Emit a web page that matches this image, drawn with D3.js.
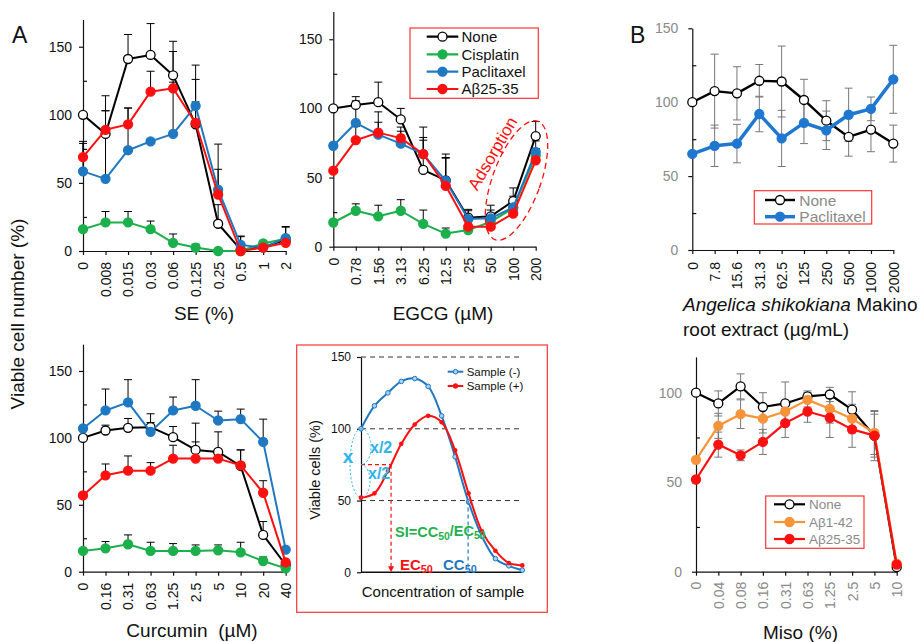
<!DOCTYPE html>
<html><head><meta charset="utf-8">
<script src="https://cdn.jsdelivr.net/npm/d3@7"></script>
<style>
body{margin:0;background:#fff}
svg{display:block;font-family:"Liberation Sans",Arial,Helvetica,sans-serif}
</style></head><body>
<svg id="fig" width="921" height="642"></svg>
<script>
// ---- Panel A: SE ----
const seCats = ["0","0.008","0.015","0.03","0.06","0.125","0.25","0.5","1","2"];
const seNone = [100, 86, 141, 144, 129, 93, 20, 1, 3, 8];
const seNoneErr = [0, 28, 18, 23, 25, 33, 14, 10, 2, 10];
const seCis = [16, 21, 21, 16, 6, 2.5, 0, 0, 5.5, 9];
const seCisErr = [0, 8, 8, 6, 6.5, 2.5, 0, 0, 0, 0];
const sePac = [58.5, 53, 74, 80.5, 86, 106.5, 45, 4.5, 2.5, 9.5];
const sePacErr = [22, 50, 31, 0, 38, 30, 15, 6, 3, 8];
const seAb = [69, 89, 93, 117, 119.5, 94, 41.5, 0, 2.5, 6];
const seAbErr = [10, 14, 12, 15, 27, 15.5, 37, 0, 2, 3];

// ---- Panel A: EGCG ----
const egCats = ["0","0.78","1.56","3.13","6.25","12.5","25","50","100","200"];
const egNone = [100, 102.5, 104.5, 92, 55.5, 48, 21, 22, 33, 80];
const egNoneErr = [0, 6, 14.5, 8, 31, 19, 6, 8, 9.5, 10.5];
const egCis = [17.5, 26, 22, 26, 16.5, 9.5, 12, 18, 28, 66];
const egCisErr = [0, 5, 8, 8, 10, 4, 3, 3, 4, 5];
const egPac = [73, 89.5, 81, 74.5, 67, 47.5, 20, 20.5, 28.5, 68.5];
const egPacErr = [0, 16, 9, 9, 12, 17, 6, 6, 8, 8];
const egAb = [55, 77, 82.5, 78.5, 67, 44, 14.5, 14.5, 24, 62.5];
const egAbErr = [0, 10, 15, 8, 10, 20, 6, 6, 8, 8];

// ---- Panel A: Curcumin ----
const cuCats = ["0","0.16","0.31","0.63","1.25","2.5","5","10","20","40"];
const cuNone = [100, 105.5, 107.5, 108, 100.5, 91, 89.5, 79, 27.5, 5];
const cuNoneErr = [0, 4, 7, 10, 8, 20, 15, 12, 10, 2];
const cuCis = [15.5, 17.5, 20.5, 15.5, 15.5, 15.5, 16, 14.5, 8, 2.5];
const cuCisErr = [0, 5, 7, 6.5, 5.5, 4.5, 4, 7.5, 3, 0];
const cuPac = [107, 120.5, 126.5, 104.5, 120.5, 124, 113, 114, 97, 16.5];
const cuPacErr = [0, 16, 17, 7, 10, 19.5, 7, 7.5, 17, 0];
const cuAb = [57, 72, 75.5, 75.5, 84.5, 84.5, 84.5, 79.5, 59, 7];
const cuAbErr = [0, 8.5, 11, 6, 10, 12.5, 5, 11.5, 9, 0];

// ---- Schematic: selectivity index ----
const schConc = [0, 1, 2, 3, 4, 5, 6, 7, 8, 9, 10, 11, 12];
const schNeg = [100, 116, 125, 133, 135, 129.5, 109, 80.5, 49, 25, 9.5, 4.5, 1.5];
const schPos = [52, 55, 70.5, 89.5, 103, 109, 104.5, 85, 55, 28.5, 15, 6.5, 4.8];
const schTicks = [0, 50, 100, 150];

// ---- Panel B: Angelica shikokiana ----
const asCats = ["0","7.8","15.6","31.3","62.5","125","250","500","1000","2000"];
const asNone = [100, 107.5, 106, 114.5, 114, 101.5, 87.5, 76.5, 81.5, 72];
const asNoneSd = [0, 25, 18, 11, 24, 14, 13.5, 13, 15, 12.5];
const asPac = [65, 70.5, 72, 92, 75.5, 86, 81, 91.5, 95.5, 115.5];
const asPacSd = [0, 14, 13, 12, 19, 14, 13, 18, 8, 23];

// ---- Panel B: Miso ----
const miCats = ["0","0.04","0.08","0.16","0.31","0.63","1.25","2.5","5","10"];
const miNone = [100, 94, 103.5, 92, 94, 98, 99, 90.5, 76, 2.5];
const miNoneSd = [0, 7, 7, 8, 12, 3, 4, 10, 12, 0];
const miAb42 = [62.5, 81.5, 88, 85.5, 89.5, 96, 91, 85.5, 77.5, 4.5];
const miAb42Sd = [0, 7, 8, 8, 6, 4, 8, 8, 12, 0];
const miAb25 = [51.5, 71, 65, 72.5, 83, 89.5, 86, 79.5, 76, 4];
const miAb25Sd = [0, 7, 3, 7, 8, 6, 11, 10, 14, 0];

const C = {
  black: "#000000", green: "#1bb04b", blue: "#1f78c2", red: "#ff1010",
  blueB: "#1f77d0", orange: "#f7943a", cyan: "#2eb4ea", box: "#ff3333", grayTxt: "#8a8a8a"
};

const svg = d3.select("#fig");
const FONT_T = 19;

function drawPanel(p) {
  const x = d3.scalePoint().domain(p.cats).range(p.xr);
  const y = d3.scaleLinear().domain(p.yd).range(p.yr);
  const g = svg.append("g");

  // y axis (major ticks outside, minor inside)
  const ya = g.append("g").attr("transform", `translate(${p.xr[0]},0)`)
    .call(d3.axisLeft(y).tickValues(p.yticks).tickSize(4).tickPadding(p.ypad).tickSizeOuter(0));
  const ym = g.append("g").attr("transform", `translate(${p.xr[0]},0)`)
    .call(d3.axisRight(y).tickValues(p.minor).tickSize(4).tickFormat(() => ""));
  ym.select(".domain").remove();

  // x axis with vertical labels
  const xa = g.append("g").attr("transform", `translate(0,${p.yr[0]})`)
    .call(d3.axisBottom(x).tickSize(4).tickSizeOuter(0));
  xa.selectAll("text")
    .attr("y", 0).attr("x", -p.xpad).attr("dy", "0.35em")
    .attr("transform", "rotate(-90)").style("text-anchor", "end");

  [ya, ym, xa].forEach(a => {
    a.selectAll(".domain, line").attr("stroke", "#111").attr("stroke-width", 1.2);
    a.selectAll("text").style("font-size", "14px")
      .style("font-family", "Liberation Sans, Arial, sans-serif");
  });
  ya.selectAll("text").attr("fill", p.yTickColor);
  xa.selectAll("text").attr("fill", p.xTickColor);

  // error bars
  p.series.forEach(s => {
    const eg = g.append("g").attr("stroke", p.errColor).attr("stroke-width", 1).attr("fill", "none");
    s.v.forEach((v, i) => {
      const e = s.e[i];
      if (!e) return;
      const cx = x(p.cats[i]);
      const lo = p.twoSided ? v - e : v;
      eg.append("line").attr("x1", cx).attr("x2", cx).attr("y1", y(lo)).attr("y2", y(v + e));
      eg.append("line").attr("x1", cx - 4).attr("x2", cx + 4).attr("y1", y(v + e)).attr("y2", y(v + e));
      if (p.twoSided)
        eg.append("line").attr("x1", cx - 4).attr("x2", cx + 4).attr("y1", y(lo)).attr("y2", y(lo));
    });
  });

  // lines and markers
  p.series.forEach(s => {
    const line = d3.line().x((d, i) => x(p.cats[i])).y(d => y(d));
    g.append("path").datum(s.v).attr("d", line).attr("fill", "none")
      .attr("stroke", s.color).attr("stroke-width", s.lw || 2).attr("stroke-linejoin", "round");
    g.append("g").selectAll("circle").data(s.v).join("circle")
      .attr("cx", (d, i) => x(p.cats[i])).attr("cy", d => y(d)).attr("r", s.r || 4.5)
      .attr("fill", s.open ? "#fff" : s.color).attr("stroke", s.color).attr("stroke-width", 1.3);
  });
  return { x, y, g };
}

function drawLegend(L) {
  const g = svg.append("g");
  g.append("rect").attr("x", L.x).attr("y", L.y).attr("width", L.w).attr("height", L.h)
    .attr("fill", "#fff").attr("stroke", C.box).attr("stroke-width", 1.2);
  L.items.forEach((it, i) => {
    const yy = L.rows[i];
    g.append("line").attr("x1", L.lx[0]).attr("x2", L.lx[1]).attr("y1", yy).attr("y2", yy)
      .attr("stroke", it.color).attr("stroke-width", it.lw || 2.2);
    g.append("circle").attr("cx", (L.lx[0] + L.lx[1]) / 2).attr("cy", yy).attr("r", 4.5)
      .attr("fill", it.open ? "#fff" : it.color).attr("stroke", it.color).attr("stroke-width", 1.3);
    g.append("text").attr("x", L.tx).attr("y", yy).attr("dy", "0.36em")
      .style("font-size", L.fs + "px").attr("fill", L.tc).text(it.label);
  });
}

const A_TICK = "#111";

// SE
drawPanel({
  cats: seCats, xr: [83, 285.7], yd: [0, 170], yr: [251, 19.5],
  yticks: [0, 50, 100, 150], minor: [25, 75, 125], ypad: 7, xpad: 11,
  yTickColor: A_TICK, xTickColor: A_TICK, errColor: "#000", twoSided: false,
  series: [
    { v: seNone, e: seNoneErr, color: C.black, open: true },
    { v: seCis, e: seCisErr, color: C.green },
    { v: sePac, e: sePacErr, color: C.blue },
    { v: seAb, e: seAbErr, color: C.red }
  ]
});

// EGCG
drawPanel({
  cats: egCats, xr: [333.3, 535.7], yd: [0, 170], yr: [246.7, 11.6],
  yticks: [0, 50, 100, 150], minor: [25, 75, 125], ypad: 7, xpad: 11,
  yTickColor: A_TICK, xTickColor: A_TICK, errColor: "#000", twoSided: false,
  series: [
    { v: egNone, e: egNoneErr, color: C.black, open: true },
    { v: egCis, e: egCisErr, color: C.green },
    { v: egPac, e: egPacErr, color: C.blue },
    { v: egAb, e: egAbErr, color: C.red }
  ]
});

// Curcumin
drawPanel({
  cats: cuCats, xr: [83, 285.7], yd: [0, 170], yr: [571.7, 344.2],
  yticks: [0, 50, 100, 150], minor: [25, 75, 125], ypad: 7, xpad: 11,
  yTickColor: A_TICK, xTickColor: A_TICK, errColor: "#000", twoSided: false,
  series: [
    { v: cuNone, e: cuNoneErr, color: C.black, open: true },
    { v: cuCis, e: cuCisErr, color: C.green },
    { v: cuPac, e: cuPacErr, color: C.blue },
    { v: cuAb, e: cuAbErr, color: C.red }
  ]
});

// Angelica shikokiana
drawPanel({
  cats: asCats, xr: [692.3, 893.3], yd: [0, 150], yr: [250, 28.3],
  yticks: [0, 50, 100, 150], minor: [25, 75, 125], ypad: 10, xpad: 12,
  yTickColor: C.grayTxt, xTickColor: "#111", errColor: "#777", twoSided: true,
  series: [
    { v: asNone, e: asNoneSd, color: C.black, open: true, lw: 2.4 },
    { v: asPac, e: asPacSd, color: C.blueB, lw: 3.5 }
  ]
});

// Miso
drawPanel({
  cats: miCats, xr: [696, 896.7], yd: [0, 120], yr: [571.7, 356.9],
  yticks: [0, 50, 100], minor: [25, 75], ypad: 10, xpad: 10,
  yTickColor: C.grayTxt, xTickColor: C.grayTxt, errColor: "#777", twoSided: true,
  series: [
    { v: miNone, e: miNoneSd, color: C.black, open: true, lw: 2.2 },
    { v: miAb42, e: miAb42Sd, color: C.orange, lw: 2.2 },
    { v: miAb25, e: miAb25Sd, color: C.red, lw: 2.2 }
  ]
});

// Adsorption annotation on the EGCG panel
svg.append("ellipse").attr("cx", 0).attr("cy", 0).attr("rx", 24).attr("ry", 63)
  .attr("transform", "translate(516.5,180.5) rotate(20)")
  .attr("fill", "none").attr("stroke", C.red).attr("stroke-width", 1.3).attr("stroke-dasharray", "6,4");
svg.append("text").attr("transform", "translate(492.5,153.4) rotate(-60)")
  .attr("text-anchor", "middle").attr("dy", "0.35em").style("font-size", "17px")
  .attr("fill", C.red).text("Adsorption");

// Legends
drawLegend({
  x: 410, y: 28, w: 128.3, h: 70.3, rows: [36.7, 54.3, 71.7, 89], lx: [426.7, 458.3], tx: 461.5,
  fs: 15, tc: "#111",
  items: [
    { label: "None", color: C.black, open: true },
    { label: "Cisplatin", color: C.green },
    { label: "Paclitaxel", color: C.blue },
    { label: "Aβ25-35", color: C.red }
  ]
});
drawLegend({
  x: 754.3, y: 190.7, w: 117.4, h: 33.3, rows: [200, 216.7], lx: [765, 795], tx: 799.3,
  fs: 15.5, tc: C.grayTxt,
  items: [
    { label: "None", color: C.black, open: true, lw: 2.4 },
    { label: "Paclitaxel", color: C.blueB, lw: 3.5 }
  ]
});
drawLegend({
  x: 765.7, y: 496, w: 98.3, h: 52.3, rows: [504.3, 522, 539], lx: [774, 805], tx: 809,
  fs: 13.5, tc: C.grayTxt,
  items: [
    { label: "None", color: C.black, open: true },
    { label: "Aβ1-42", color: C.orange },
    { label: "Aβ25-35", color: C.red }
  ]
});

// ---- Schematic panel ----
(function () {
  const g = svg.append("g");
  g.append("rect").attr("x", 296.7).attr("y", 345).attr("width", 250.6).attr("height", 267.3)
    .attr("fill", "#fff").attr("stroke", C.box).attr("stroke-width", 1.2);
  const x = d3.scaleLinear().domain([0, 12]).range([361, 522.3]);
  const y = d3.scaleLinear().domain([0, 150]).range([572.3, 357]);

  // dashed reference lines
  g.append("g").selectAll("line").data(schTicks.filter(t => t > 0)).join("line")
    .attr("x1", x(0)).attr("x2", x(12)).attr("y1", d => y(d)).attr("y2", d => y(d))
    .attr("stroke", "#333").attr("stroke-width", 1).attr("stroke-dasharray", "5,4");

  const ya = g.append("g").attr("transform", `translate(${x(0)},0)`)
    .call(d3.axisLeft(y).tickValues(schTicks).tickSize(4).tickPadding(6).tickSizeOuter(0));
  ya.selectAll(".domain, line").attr("stroke", "#111").attr("stroke-width", 1.2);
  ya.selectAll("text").style("font-size", "12px").attr("fill", "#111")
    .style("font-family", "Liberation Sans, Arial, sans-serif");
  g.append("line").attr("x1", x(0)).attr("x2", x(12)).attr("y1", y(0)).attr("y2", y(0))
    .attr("stroke", "#111").attr("stroke-width", 1.4);

  const curve = d3.line().x((d, i) => x(schConc[i])).y(d => y(d)).curve(d3.curveCatmullRom.alpha(0.5));
  g.append("path").datum(schNeg).attr("d", curve).attr("fill", "none").attr("stroke", C.blue).attr("stroke-width", 2);
  g.append("g").selectAll("circle").data(schNeg).join("circle")
    .attr("cx", (d, i) => x(schConc[i])).attr("cy", d => y(d)).attr("r", 2.3)
    .attr("fill", "#a9d0f0").attr("stroke", C.blue).attr("stroke-width", 1);
  g.append("path").datum(schPos).attr("d", curve).attr("fill", "none").attr("stroke", C.red).attr("stroke-width", 2);
  g.append("g").selectAll("circle").data(schPos).join("circle")
    .attr("cx", (d, i) => x(schConc[i])).attr("cy", d => y(d)).attr("r", 2.3).attr("fill", C.red);

  // concentration where a series crosses a level (searching from a start index)
  function crossing(vals, level, from) {
    for (let i = from; i < vals.length - 1; i++) {
      const a = vals[i], b = vals[i + 1];
      if ((a - level) * (b - level) <= 0 && a !== b) return schConc[i] + (level - a) / (b - a);
    }
    return 0;
  }
  const ec = crossing(schPos, 75, 0);
  const cc = crossing(schNeg, 50, 4);

  // EC50 guide
  g.append("line").attr("x1", x(0)).attr("x2", x(ec)).attr("y1", y(75)).attr("y2", y(75))
    .attr("stroke", C.red).attr("stroke-width", 1.2).attr("stroke-dasharray", "4,3");
  g.append("line").attr("x1", x(ec)).attr("x2", x(ec)).attr("y1", y(75)).attr("y2", y(0) - 5)
    .attr("stroke", C.red).attr("stroke-width", 1.2).attr("stroke-dasharray", "4,3");
  g.append("path").attr("d", `M${x(ec) - 3},${y(0) - 6} L${x(ec) + 3},${y(0) - 6} L${x(ec)},${y(0)} Z`).attr("fill", C.red);
  // CC50 guide
  g.append("line").attr("x1", x(cc)).attr("x2", x(cc)).attr("y1", y(50)).attr("y2", y(0))
    .attr("stroke", C.blue).attr("stroke-width", 1.2).attr("stroke-dasharray", "4,3");

  // x and x/2 brackets
  const x0 = x(0);
  const yT = y(schNeg[0]), yM = y(75), yB = y(schPos[0]);
  const arcs = g.append("g").attr("fill", "none").attr("stroke", C.cyan).attr("stroke-width", 1).attr("stroke-dasharray", "2,2");
  arcs.append("path").attr("d", `M${x0},${yT} A11,${(yB - yT) / 2} 0 0 0 ${x0},${yB}`);
  arcs.append("path").attr("d", `M${x0},${yT} A10,${(yM - yT) / 2} 0 0 1 ${x0},${yM}`);
  arcs.append("path").attr("d", `M${x0},${yM} A9,${(yB - yM) / 2} 0 0 1 ${x0},${yB}`);
  g.append("text").attr("x", 348).attr("y", 463).attr("text-anchor", "middle")
    .style("font-size", "19px").style("font-weight", "bold").attr("fill", C.cyan).text("x");
  g.append("text").attr("x", 370).attr("y", 453)
    .style("font-size", "16px").style("font-weight", "bold").attr("fill", C.cyan).text("x/2");
  g.append("text").attr("x", 368).attr("y", 479)
    .style("font-size", "16px").style("font-weight", "bold").attr("fill", C.cyan).text("x/2");

  // labels with subscripts
  function sub(xx, yy, parts, color, fs) {
    const tx = g.append("text").attr("x", xx).attr("y", yy).style("font-size", fs + "px")
      .style("font-weight", "bold").attr("fill", color);
    parts.forEach(pt => {
      const s = tx.append("tspan").text(pt[0]);
      if (pt[1]) s.style("font-size", (fs * 0.72) + "px").attr("dy", "0.25em");
      else if (pt[2]) s.attr("dy", "-0.25em");
    });
  }
  sub(395, 537, [["SI=CC"], ["50", true], ["/EC", false, true], ["50", true]], "#22b14c", 14.5);
  sub(400, 570, [["EC"], ["50", true]], C.red, 15);
  sub(443, 570, [["CC"], ["50", true]], C.blue, 15);

  // legend
  [["Sample (-)", C.blue, 371.7, true], ["Sample (+)", C.red, 386, false]].forEach(([lab, col, yy, open]) => {
    g.append("line").attr("x1", 447.7).attr("x2", 463.3).attr("y1", yy).attr("y2", yy).attr("stroke", col).attr("stroke-width", 2);
    g.append("circle").attr("cx", 455.5).attr("cy", yy).attr("r", 2.3)
      .attr("fill", open ? "#a9d0f0" : col).attr("stroke", col).attr("stroke-width", 1);
    g.append("text").attr("x", 466.7).attr("y", yy).attr("dy", "0.36em").style("font-size", "11.5px").attr("fill", "#111").text(lab);
  });

  g.append("text").attr("transform", "translate(320,470) rotate(-90)").attr("text-anchor", "middle")
    .style("font-size", "14.5px").attr("fill", "#111").text("Viable cells (%)");
  g.append("text").attr("x", 443).attr("y", 597).attr("text-anchor", "middle")
    .style("font-size", "15px").attr("fill", "#111").text("Concentration of sample");
})();

// ---- Titles ----
function title(txt, xx, yy, anchor) {
  return svg.append("text").attr("x", xx).attr("y", yy).attr("text-anchor", anchor || "middle")
    .style("font-size", FONT_T + "px").style("white-space", "pre").attr("fill", "#111").text(txt);
}
title("SE (%)", 204, 320);
title("EGCG (µM)", 443, 320);
title("Curcumin  (µM)", 192, 637);
title("Miso (%)", 800.5, 639);
const ang = svg.append("text").attr("x", 683).attr("y", 311).style("font-size", FONT_T + "px").attr("fill", "#111");
ang.append("tspan").style("font-style", "italic").text("Angelica shikokiana");
ang.append("tspan").text(" Makino");
title("root extract (µg/mL)", 683, 336, "start");
svg.append("text").attr("transform", "translate(24,314) rotate(-90)").attr("text-anchor", "middle")
  .style("font-size", FONT_T + "px").attr("fill", "#111").text("Viable cell number (%)");
svg.append("text").attr("x", 12).attr("y", 43).style("font-size", "23px").attr("fill", "#111").text("A");
svg.append("text").attr("x", 630).attr("y", 43).style("font-size", "23px").attr("fill", "#111").text("B");
</script>
</body></html>
